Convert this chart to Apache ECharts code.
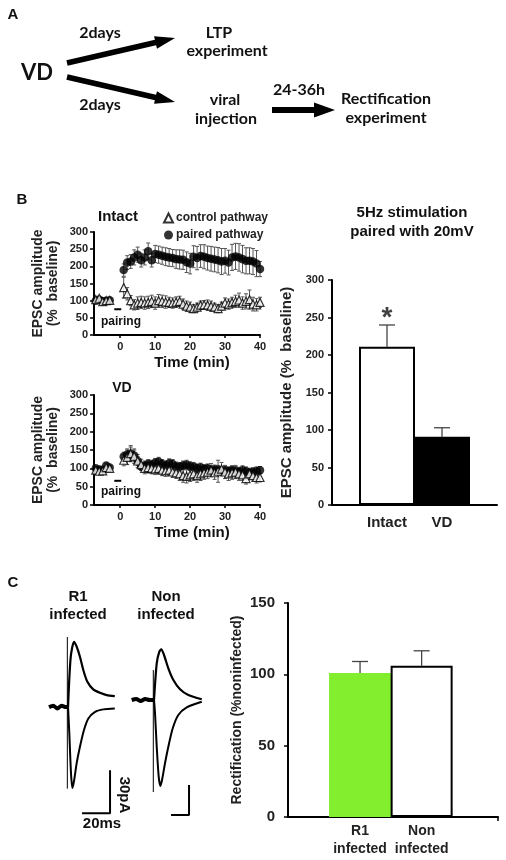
<!DOCTYPE html>
<html><head><meta charset="utf-8">
<script src="https://cdn.jsdelivr.net/npm/echarts@6/dist/echarts.min.js"></script>
<style>html,body{margin:0;padding:0;background:#fff}#c{width:506px;height:860px}</style>
</head><body><div id="c"></div>
<script>
// ---------------- DATA ----------------
const timeMin = [-7,-6,-5,-4,-3, 1,2,3,4,5,6,7,8,9,10, 11,12,13,14,15,16,17,18,19,20, 21,22,23,24,25,26,27,28,29,30, 31,32,33,34,35,36,37,38,39,40];
const xTickValues = [0,10,20,30,40];

const intactPaired    = [100,103,98,100,101, 189,211,214,226,234,218,226,244,218,236, 234,231,228,226,224,221,220,219,212,208, 228,224,230,228,224,222,220,218,214,216, 211,226,229,226,221,216,216,214,208,192];
const intactPairedErr = [6,8,6,5,6, 18,20,20,22,22,20,22,24,20,25, 25,25,26,26,25,27,28,28,30,30, 32,34,33,35,35,36,36,37,38,36, 36,38,38,40,40,38,38,38,38,22];
const intactControl   = [103,107,97,100,101, 138,120,100,88,93,95,93,95,98,93, 100,98,96,95,93,96,98,90,84,81, 77,81,87,88,87,84,81,77,84,93, 90,95,98,102,93,98,103,90,88,95];
const intactControlErr= [5,6,5,5,5, 30,18,15,15,18,18,18,18,18,18, 18,18,18,15,15,15,15,15,15,15, 12,12,12,12,15,15,12,12,12,15, 15,15,18,20,18,22,28,20,18,15];

const vdPaired    = [100,97,96,108,102, 132,138,140,135,120,105,108,112,110,115, 118,112,108,114,112,105,104,108,110,106, 104,100,102,98,100,95,97,96,93,95, 92,95,93,90,95,92,88,90,92,95];
const vdPairedErr = [6,6,5,6,5, 12,15,18,15,12,10,12,12,12,12, 12,12,12,12,12,12,12,12,12,12, 12,12,12,12,12,12,12,12,12,12, 12,12,12,12,12,12,12,12,12,10];
const vdControl   = [95,92,93,102,100, 122,130,140,133,120,110,100,102,100,98, 100,95,93,95,90,88,85,80,78,82, 85,80,85,88,90,95,88,92,98,90, 85,88,90,85,82,72,85,80,75,75];
const vdControlErr= [6,5,5,5,5, 15,20,22,20,18,15,15,15,15,15, 15,15,15,15,15,15,18,18,18,18, 18,18,18,18,18,18,18,30,18,18, 18,18,18,18,15,15,15,15,15,12];

const pairingWindow = [-1.7, 0.3];   // min
const intactPairingLevel = 75;
const vdPairingLevel = 66;

const bCategories = ['Intact', 'VD'];
const bValues = [211, 91];
const bErr = [29, 12];

const cCategories = ['R1\ninfected', 'Non\ninfected'];
const cValues = [101, 106];
const cErr = [8, 10.5];

// example current traces (ms, pA)
const trace1Base  = [[0,0],[3,1],[6,-1],[9,1],[12,0],[13.4,0]];
const trace1Upper = [[13.6,0],[15.5,35],[17.9,45.7],[19.8,42.2],[22.1,35.2],[24.5,25.9],[27.4,17.7],[31.6,12.4],[36.4,10],[41.2,8.4],[47,7.7]];
const trace1Lower = [[13.6,0],[14.5,-18],[15.7,-46],[16.7,-56.6],[17.9,-51.5],[19.8,-39],[22.1,-27.7],[25,-16],[28.1,-8],[32.9,-3.3],[38.8,-1.6],[47,-1]];
const trace1Artifact = [[13.1,49],[13.1,-57]];
const trace2Base  = [[0,0],[5,1],[10,-1],[15,1],[20,0],[24.6,0]];
const trace2Upper = [[24.8,0],[27.8,36.7],[30.7,48.3],[32.9,50.7],[35.9,45],[40.7,31.7],[46.3,20],[53.7,10.7],[62.9,5],[77.8,0.7]];
const trace2Lower = [[24.8,0],[25.9,-13],[27.8,-46.7],[30,-76.7],[31.8,-86],[33.7,-80],[37,-63.3],[40.7,-46.7],[45.6,-28.3],[51.8,-15],[61.1,-7.3],[77.8,-1.7]];
const trace2Artifact = [[24,30],[24,-92]];
const scaleMs = 20, scalePA = 30;
const scaleCorner1 = [43.6, -74.2];
const scaleCorner2 = [63.7, -115];

// ---------------- STYLE ----------------
const FONT = '"Liberation Sans", Arial, sans-serif';
const FONT_A = 'Lato, "Open Sans", sans-serif';
const TXT = '#222';
const AXLINE = {show:true, onZero:false, lineStyle:{color:'#000', width:2}};

function timeXAxis(gi) {
  return {type:'value', gridIndex:gi, min:-7.5, max:40,
    axisLine:AXLINE,
    axisTick:{show:true, customValues:xTickValues, length:3, lineStyle:{color:'#000', width:1.5}},
    axisLabel:{customValues:xTickValues, margin:6, fontSize:11, fontWeight:'bold', color:TXT, fontFamily:FONT},
    splitLine:{show:false}};
}
function pctYAxis(gi) {
  return {type:'value', gridIndex:gi, min:0, max:300, interval:50,
    axisLine:AXLINE,
    axisTick:{show:true, length:4, lineStyle:{color:'#000', width:1.5}},
    axisLabel:{margin:6, fontSize:11, fontWeight:'bold', color:TXT, fontFamily:FONT},
    splitLine:{show:false},
    name:'EPSC amplitude\n(%  baseline)', nameLocation:'middle', nameGap:33,
    nameTextStyle:{fontSize:14, fontWeight:'bold', color:TXT, lineHeight:15, fontFamily:FONT}};
}
function errSeries(xi, yi, xs, vals, errs, cap, upperOnly) {
  return {type:'custom', xAxisIndex:xi, yAxisIndex:yi, silent:true, z:2,
    data: xs.map((x,i)=>[x, vals[i]]), encode:{x:0, y:1},
    renderItem(params, api) {
      const i = params.dataIndex;
      const x = xs[i], v = vals[i], e = errs[i];
      const p1 = api.coord([x, v + e]);
      const p2 = upperOnly ? api.coord([x, v]) : api.coord([x, v - e]);
      const st = {stroke: upperOnly ? '#444' : '#555', lineWidth: upperOnly ? 1.3 : 1};
      const ch = [
        {type:'line', shape:{x1:p1[0], y1:p1[1], x2:p2[0], y2:p2[1]}, style:st},
        {type:'line', shape:{x1:p1[0]-cap, y1:p1[1], x2:p1[0]+cap, y2:p1[1]}, style:st}
      ];
      if (!upperOnly) ch.push({type:'line', shape:{x1:p2[0]-cap, y1:p2[1], x2:p2[0]+cap, y2:p2[1]}, style:st});
      return {type:'group', children:ch};
    }};
}
function pointSeries(name, xi, yi, vals) {
  const ctrl = name === 'control pathway';
  return {type:'scatter', name, xAxisIndex:xi, yAxisIndex:yi,
    data: timeMin.map((t,i)=>[t, vals[i]]),
    symbol: ctrl ? 'triangle' : 'circle', symbolSize: ctrl ? 8 : 8.5,
    itemStyle: ctrl ? {color:'#fff', borderColor:'#000', borderWidth:1.2} : {color:'#000'},
    z: ctrl ? 4 : 3, silent:true};
}
function lineSeries(xi, yi, data, w) {
  return {type:'line', xAxisIndex:xi, yAxisIndex:yi, data, symbol:'none', silent:true,
    smooth:0.25, lineStyle:{color:'#000', width:w}};
}
function arrowPts(x1,y1,x2,y2,sw,hl,hw){
  const dx=x2-x1, dy=y2-y1, L=Math.hypot(dx,dy), ux=dx/L, uy=dy/L, nx=-uy, ny=ux;
  const bx=x2-ux*hl, by=y2-uy*hl;
  return [[x1+nx*sw/2,y1+ny*sw/2],[bx+nx*sw/2,by+ny*sw/2],[bx+nx*hw/2,by+ny*hw/2],[x2,y2],
          [bx-nx*hw/2,by-ny*hw/2],[bx-nx*sw/2,by-ny*sw/2],[x1-nx*sw/2,y1-ny*sw/2]];
}
function txt(text, x, y, size, font, opts) {
  return Object.assign({type:'text', x, y, silent:true,
    style:{text, fill:'#111', font:'bold '+size+'px '+font, align:'center', verticalAlign:'middle'}}, opts||{});
}

const chart = echarts.init(document.getElementById('c'), null, {renderer:'canvas'});

const hidden = (gi, min, max) => ({type:'value', gridIndex:gi, min, max, show:false});
const cXMin = -1.17, cXMax = 2.24;

const option = {
  animation:false,
  backgroundColor:'#fff',
  grid:[
    {left:94, top:232, width:166, height:103},
    {left:94, top:395, width:166, height:110},
    {left:332, top:280, width:165, height:225},
    {left:288, top:603, width:210, height:214},
    {left:49, top:627, width:65.8, height:194.5},
    {left:131.7, top:640, width:70.2, height:180}
  ],
  xAxis:[
    timeXAxis(0), timeXAxis(1),
    {type:'category', gridIndex:2, data:['', ...bCategories, ''], boundaryGap:false,
      axisLine:AXLINE, axisTick:{show:false},
      axisLabel:{margin:10, fontSize:15, fontWeight:'bold', color:TXT, fontFamily:FONT, interval:0}},
    {type:'value', gridIndex:3, min:cXMin, max:cXMax,
      axisLine:AXLINE,
      axisTick:{show:true, customValues:[cXMax], length:4, lineStyle:{color:'#000', width:1.5}},
      splitLine:{show:false},
      axisLabel:{customValues:[0,1], formatter:(v)=>cCategories[Math.round(v)], margin:5,
        fontSize:14, fontWeight:'bold', color:TXT, fontFamily:FONT, lineHeight:18}},
    hidden(4, 0, 47), hidden(5, 0, 78)
  ],
  yAxis:[
    pctYAxis(0), pctYAxis(1),
    {type:'value', gridIndex:2, min:0, max:300, interval:50,
      axisLine:AXLINE,
      axisTick:{show:true, length:4, lineStyle:{color:'#000', width:1.5}},
      axisLabel:{margin:8, fontSize:11, fontWeight:'bold', color:TXT, fontFamily:FONT},
      splitLine:{show:false},
      name:'EPSC amplitude (%  baseline)', nameLocation:'middle', nameGap:38,
      nameTextStyle:{fontSize:15, fontWeight:'bold', color:TXT, fontFamily:FONT}},
    {type:'value', gridIndex:3, min:0, max:150, interval:50,
      axisLine:AXLINE,
      axisTick:{show:true, length:4, lineStyle:{color:'#000', width:1.5}},
      axisLabel:{margin:13, fontSize:15, fontWeight:'bold', color:TXT, fontFamily:FONT},
      splitLine:{show:false},
      name:'Rectification (%noninfected)', nameLocation:'middle', nameGap:44,
      nameTextStyle:{fontSize:14, fontWeight:'bold', color:TXT, fontFamily:FONT}},
    hidden(4, -80, 56), hidden(5, -120, 60)
  ],
  legend:{data:[{name:'control pathway', icon:'triangle'}, {name:'paired pathway', icon:'circle'}],
    left:158, top:207, orient:'vertical', itemWidth:9, itemHeight:9, itemGap:5, selectedMode:false,
    textStyle:{fontSize:12, fontWeight:'bold', color:TXT, fontFamily:FONT, padding:[0,0,0,-2]}},
  series:[
    // Intact
    errSeries(0,0,timeMin,intactPaired,intactPairedErr,2,false),
    errSeries(0,0,timeMin,intactControl,intactControlErr,2,false),
    pointSeries('paired pathway',0,0,intactPaired),
    pointSeries('control pathway',0,0,intactControl),
    {type:'line', xAxisIndex:0, yAxisIndex:0, symbol:'none', silent:true, lineStyle:{color:'#000', width:2},
      data:[[pairingWindow[0], intactPairingLevel],[pairingWindow[1], intactPairingLevel]]},
    // VD
    errSeries(1,1,timeMin,vdPaired,vdPairedErr,2,false),
    errSeries(1,1,timeMin,vdControl,vdControlErr,2,false),
    pointSeries('paired pathway',1,1,vdPaired),
    pointSeries('control pathway',1,1,vdControl),
    {type:'line', xAxisIndex:1, yAxisIndex:1, symbol:'none', silent:true, lineStyle:{color:'#000', width:2},
      data:[[pairingWindow[0], vdPairingLevel],[pairingWindow[1], vdPairingLevel]]},
    // B bar chart
    {type:'bar', xAxisIndex:2, yAxisIndex:2, barWidth:56, silent:true, z:3,
      data:['-', {value:bValues[0], itemStyle:{color:'#fff', borderColor:'#000', borderWidth:2}},
                 {value:bValues[1], itemStyle:{color:'#000', borderColor:'#000', borderWidth:2}}, '-']},
    errSeries(2,2,[1,2],bValues,bErr,8,true),
    {type:'scatter', xAxisIndex:2, yAxisIndex:2, silent:true, symbolSize:1, itemStyle:{color:'rgba(0,0,0,0)'},
      data:[[1, bValues[0]+bErr[0]]],
      label:{show:true, position:'top', distance:-8, formatter:'*', fontSize:28, fontWeight:'bold', color:'#111', fontFamily:FONT}},
    // C bar chart
    {type:'bar', xAxisIndex:3, yAxisIndex:3, barWidth:62, silent:true, z:3,
      data:[{value:[0, cValues[0]], itemStyle:{color:'#82ee2e'}},
            {value:[1, cValues[1]], itemStyle:{color:'#fff', borderColor:'#000', borderWidth:2}}]},
    errSeries(3,3,[0,1],cValues,cErr,8,true),
    // traces
    lineSeries(4,4,trace1Base,4),
    lineSeries(4,4,trace1Upper,2.2),
    lineSeries(4,4,trace1Lower,2),
    {type:'line', xAxisIndex:4, yAxisIndex:4, data:trace1Artifact, symbol:'none', silent:true, lineStyle:{color:'#000', width:1}},
    {type:'line', xAxisIndex:4, yAxisIndex:4, symbol:'none', silent:true, lineStyle:{color:'#000', width:2},
      data:[[scaleCorner1[0]-scaleMs, scaleCorner1[1]], scaleCorner1, [scaleCorner1[0], scaleCorner1[1]+scalePA]]},
    lineSeries(5,5,trace2Base,4),
    lineSeries(5,5,trace2Upper,2.2),
    lineSeries(5,5,trace2Lower,2),
    {type:'line', xAxisIndex:5, yAxisIndex:5, data:trace2Artifact, symbol:'none', silent:true, lineStyle:{color:'#000', width:1}},
    {type:'line', xAxisIndex:5, yAxisIndex:5, symbol:'none', silent:true, lineStyle:{color:'#000', width:2},
      data:[[scaleCorner2[0]-scaleMs, scaleCorner2[1]], scaleCorner2, [scaleCorner2[0], scaleCorner2[1]+scalePA]]}
  ],
  graphic:[
    // Panel A
    txt('A', 13, 15, 15, FONT),
    txt('VD', 37, 73, 22, FONT_A),
    txt('2days', 100, 33, 16, FONT_A),
    txt('2days', 100, 105, 16, FONT_A),
    txt('LTP', 219, 33, 16, FONT_A),
    txt('experiment', 227, 51, 16, FONT_A),
    txt('viral', 225, 100, 16, FONT_A),
    txt('injection', 226, 119, 16, FONT_A),
    txt('24-36h', 299, 90, 16, FONT_A),
    txt('Rectification', 386, 99, 16, FONT_A),
    txt('experiment', 386, 118, 16, FONT_A),
    {type:'polygon', silent:true, shape:{points:arrowPts(67,63,175,38,5.5,20,13)}, style:{fill:'#000'}},
    {type:'polygon', silent:true, shape:{points:arrowPts(67,77,175,102,5.5,20,13)}, style:{fill:'#000'}},
    {type:'polygon', silent:true, shape:{points:arrowPts(272,110,335,110,6,21,15)}, style:{fill:'#000'}},
    // Panel B
    txt('B', 22, 200, 15, FONT),
    txt('Intact', 118, 217, 15, FONT),
    txt('VD', 122, 388, 14, FONT),
    txt('pairing', 121, 322, 12, FONT),
    txt('pairing', 121, 492, 12, FONT),
    txt('Time (min)', 192, 363, 15, FONT),
    txt('Time (min)', 192, 533, 15, FONT),
    txt('5Hz stimulation', 412, 213, 15, FONT),
    txt('paired with 20mV', 412, 232, 15, FONT),
    // Panel C
    txt('C', 13, 583, 15, FONT),
    txt('R1', 78, 597, 15, FONT),
    txt('infected', 78, 615, 15, FONT),
    txt('Non', 166, 597, 15, FONT),
    txt('infected', 166, 615, 15, FONT),
    txt('30pA', 124, 795, 15, FONT, {rotation:-Math.PI/2}),
    txt('20ms', 102, 824, 15, FONT)
  ]
};
chart.setOption(option);
</script></body></html>
